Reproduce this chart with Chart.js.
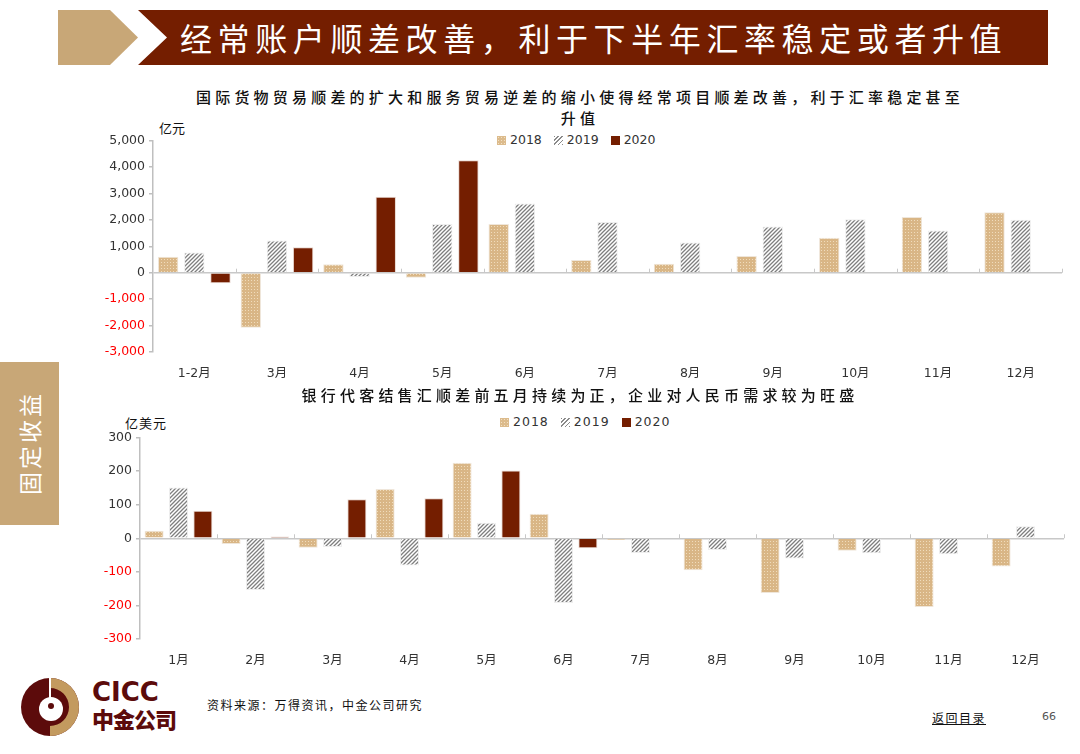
<!DOCTYPE html>
<html>
<head>
<meta charset="utf-8">
<script src="https://cdn.jsdelivr.net/npm/chart.js@4"></script>
<style>
body { margin:0; width:1080px; height:754px; background:#fff; position:relative; overflow:hidden;
  font-family:"Noto Sans CJK SC","DejaVu Sans",sans-serif; color:#222; }
.abs { position:absolute; }
#tan { left:58px; top:10px; width:80px; height:55px; background:#c8a777;
  clip-path:polygon(0 0,65% 0,100% 50%,65% 100%,0 100%); }
#banner { left:138px; top:10px; width:910px; height:55px; background:#741e00;
  clip-path:polygon(0 0,100% 0,100% 100%,0 100%,29px 50%); }
#title { left:180px; top:13px; color:#fff; font-size:32px; letter-spacing:5.6px; line-height:48px; white-space:nowrap; }
.ctitle { font-size:15px; letter-spacing:4.2px; white-space:nowrap; text-align:center; width:900px; left:130px; line-height:21px; color:#111; font-weight:500; }
.unit { font-size:13px; color:#111; }
.legend { font-family:"DejaVu Sans",sans-serif; font-size:12.5px; color:#333; white-space:nowrap; }
.legend span.sw { display:inline-block; width:9px; height:9px; margin-right:4px; vertical-align:-0.5px; }
.legend span.lb { margin-right:12px; }
.s18 { background:#dcbb8c; background-image:radial-gradient(#f2e0c4 35%, transparent 40%); background-size:3px 3px; }
.s19 { background:repeating-linear-gradient(-45deg,#8a8a8a 0 1.2px,#fff 1.2px 3px); }
.s20 { background:#741e00; }
#side { left:0; top:362px; width:59px; height:163px; background:#c8a777; }
#sidetext { left:-23px; top:430px; width:104px; text-align:center; color:#fff; font-size:23px; letter-spacing:3px;
  transform:rotate(-90deg); line-height:26px; }
#src { left:207px; top:696px; font-size:12px; color:#111; letter-spacing:1.5px; }
#back { left:932px; top:709px; font-size:12px; color:#111; text-decoration:underline; letter-spacing:1.5px; }
#page { left:1042px; top:710px; font-size:11px; color:#555; font-family:"DejaVu Sans",sans-serif; }
#logotext1 { left:92px; top:678px; font-family:"DejaVu Sans",sans-serif; font-weight:bold; font-size:26px; color:#5c0b0b; line-height:28px; }
#logotext2 { left:92px; top:704px; font-weight:900; font-size:22px; color:#5c0b0b; line-height:28px; letter-spacing:-1px; }
</style>
</head>
<body>
<div id="tan" class="abs"></div>
<div id="banner" class="abs"></div>
<div id="title" class="abs">经常账户顺差改善，利于下半年汇率稳定或者升值</div>

<div class="abs ctitle" style="top:86px">国际货物贸易顺差的扩大和服务贸易逆差的缩小使得经常项目顺差改善，利于汇率稳定甚至<br>升值</div>
<div class="abs unit" style="left:159px;top:118px">亿元</div>
<div class="abs legend" style="left:497px;top:132px"><span class="sw s18"></span><span class="lb">2018</span><span class="sw s19"></span><span class="lb">2019</span><span class="sw s20"></span><span>2020</span></div>
<canvas id="c1" class="abs" style="left:70px;top:129px"></canvas>

<div class="abs ctitle" style="top:384px">银行代客结售汇顺差前五月持续为正，企业对人民币需求较为旺盛</div>
<div class="abs unit" style="left:125px;top:413px;letter-spacing:1px">亿美元</div>
<div class="abs legend" style="left:500px;top:414px;letter-spacing:1px"><span class="sw s18"></span><span class="lb">2018</span><span class="sw s19"></span><span class="lb">2019</span><span class="sw s20"></span><span>2020</span></div>
<canvas id="c2" class="abs" style="left:70px;top:426px"></canvas>

<div id="side" class="abs"></div>
<div id="sidetext" class="abs">固定收益</div>

<svg class="abs" style="left:18px;top:676px" width="66" height="62" viewBox="0 0 66 62">
  <circle cx="32" cy="31" r="29" fill="#5c0b0b"/>
  <path d="M32 2 A29 29 0 0 1 32 60 L32 50 A19 19 0 0 0 32 12 Z" fill="#c39a5f"/>
  <circle cx="33" cy="33" r="12" fill="#fff"/>
  <path d="M32 2 L32 26" stroke="#fff" stroke-width="2"/>
  <circle cx="33" cy="30" r="3" fill="#5c0b0b"/>
</svg>
<div id="logotext1" class="abs">CICC</div>
<div id="logotext2" class="abs">中金公司</div>

<div id="src" class="abs">资料来源：万得资讯，中金公司研究</div>
<div id="back" class="abs">返回目录</div>
<div id="page" class="abs">66</div>

<script>
// 经常账户（亿元）
const monthsTop = ['1-2月','3月','4月','5月','6月','7月','8月','9月','10月','11月','12月'];
const ca2018 = [600, -2080, 320, -190, 1840, 480, 340, 630, 1320, 2110, 2290];
const ca2019 = [760, 1220, -160, 1840, 2620, 1920, 1140, 1750, 2020, 1600, 2000];
const ca2020 = [-400, 960, 2870, 4250, null, null, null, null, null, null, null];
const ticksTop = [-3000, -2000, -1000, 0, 1000, 2000, 3000, 4000, 5000];

// 结售汇（亿美元）
const monthsBottom = ['1月','2月','3月','4月','5月','6月','7月','8月','9月','10月','11月','12月'];
const fx2018 = [22, -17, -28, 147, 225, 73, -5, -95, -163, -37, -205, -84];
const fx2019 = [151, -154, -26, -81, 46, -193, -44, -35, -60, -45, -48, 36];
const fx2020 = [82, 5, 116, 119, 202, -30, null, null, null, null, null, null];
const ticksBottom = [-300, -200, -100, 0, 100, 200, 300];

function dotPattern() {
    const c = document.createElement('canvas');
    c.width = 3; c.height = 3;
    const g = c.getContext('2d');
    g.fillStyle = '#d9b686'; g.fillRect(0, 0, 3, 3);
    g.fillStyle = '#f0dcbc'; g.fillRect(1, 1, 1, 1);
    return g.createPattern(c, 'repeat');
}
function hatchPattern() {
    const c = document.createElement('canvas');
    c.width = 4; c.height = 4;
    const g = c.getContext('2d');
    g.fillStyle = '#fff'; g.fillRect(0, 0, 4, 4);
    g.strokeStyle = '#7f7f7f'; g.lineWidth = 1.3;
    g.beginPath();
    g.moveTo(-1, 5); g.lineTo(5, -1);
    g.moveTo(-1, 1); g.lineTo(1, -1);
    g.moveTo(3, 5); g.lineTo(5, 3);
    g.stroke();
    return g.createPattern(c, 'repeat');
}

// small ticks on the zero line between categories
const zeroTicks = {
    id: 'zeroTicks',
    afterDatasetsDraw(chart) {
        const x = chart.scales.x, y = chart.scales.y;
        const y0 = y.getPixelForValue(0);
        const ctx = chart.ctx;
        ctx.save();
        ctx.strokeStyle = '#c8c8c8'; ctx.lineWidth = 1;
        const n = x.ticks.length;
        const step = (x.right - x.left) / n;
        for (let i = 1; i <= n; i++) {
            const px = Math.round(x.left + step * i) + 0.5;
            ctx.beginPath(); ctx.moveTo(px, y0 - 4); ctx.lineTo(px, y0); ctx.stroke();
        }
        ctx.restore();
    }
};

function makeChart(id, w, h, labels, d18, d19, d20, yTicks, yWidth, fmt) {
    const el = document.getElementById(id);
    el.style.width = w + 'px'; el.style.height = h + 'px';
    const font = { family: 'DejaVu Sans, Noto Sans CJK SC', size: 12.5 };
    return new Chart(el, {
        type: 'bar',
        data: {
            labels: labels,
            datasets: [
                { label: '2018', data: d18, backgroundColor: dotPattern(), borderColor: '#efe6da', borderWidth: 1 },
                { label: '2019', data: d19, backgroundColor: hatchPattern(), borderColor: '#eeeeee', borderWidth: 1 },
                { label: '2020', data: d20, backgroundColor: '#741e00', borderColor: '#e8d8d0', borderWidth: 1 }
            ]
        },
        options: {
            responsive: false,
            animation: false,
            devicePixelRatio: 1,
            layout: { padding: { top: 7, right: 8, left: 0, bottom: 0 } },
            datasets: { bar: { categoryPercentage: 0.95, barPercentage: 0.78 } },
            plugins: { legend: { display: false }, tooltip: { enabled: false } },
            scales: {
                x: {
                    grid: { display: false },
                    border: { display: false },
                    ticks: { color: '#333', font: font, maxRotation: 0, padding: 6 },
                    afterFit: s => { s.height = 33; }
                },
                y: {
                    min: yTicks[0], max: yTicks[yTicks.length - 1],
                    afterBuildTicks: s => { s.ticks = yTicks.map(v => ({ value: v })); },
                    grid: {
                        color: c => c.tick && c.tick.value === 0 ? '#c8c8c8' : 'rgba(0,0,0,0)',
                        lineWidth: 1.5,
                        tickColor: '#bfbfbf', tickLength: 4
                    },
                    border: { display: true, color: '#bfbfbf', width: 1.5 },
                    ticks: {
                        font: font, padding: 4,
                        color: c => c.tick.value < 0 ? '#ff0000' : '#333',
                        callback: fmt
                    },
                    afterFit: s => { s.width = yWidth; }
                }
            }
        },
        plugins: [zeroTicks]
    });
}

makeChart('c1', 1000, 256, monthsTop, ca2018, ca2019, ca2020, ticksTop, 83, v => v.toLocaleString('en-US'));
makeChart('c2', 1002, 246, monthsBottom, fx2018, fx2019, fx2020, ticksBottom, 70, v => String(v));
</script>
</body>
</html>
